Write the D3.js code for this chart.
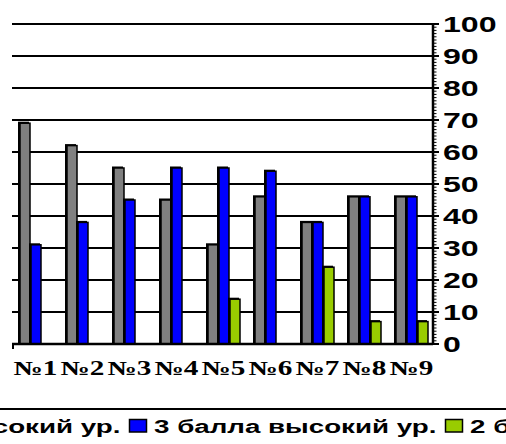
<!DOCTYPE html>
<html>
<head>
<meta charset="utf-8">
<script src="https://cdn.jsdelivr.net/npm/d3@7"></script>
<style>
  body { margin: 0; background: #fff; }
  .ylab { font-family: Arial, "Liberation Sans", sans-serif; font-weight: bold; font-size: 22px; }
  .xlab { font-family: "Times New Roman", "Liberation Serif", serif; font-weight: bold; font-size: 20px; }
  .leg { font-family: Arial, "Liberation Sans", sans-serif; font-weight: bold; font-size: 19px; }
</style>
</head>
<body>
<div id="chart"></div>
<script>
const categories = ['№1', '№2', '№3', '№4', '№5', '№6', '№7', '№8', '№9'];
const seriesNames = ['4 балла высокий ур.', '3 балла высокий ур.', '2 балла высокий ур.'];
const grayValues = [69, 62, 55, 45, 31, 46, 38, 46, 46];
const blueValues = [31, 38, 45, 55, 55, 54, 38, 46, 46];
const greenValues = [0, 0, 0, 0, 14, 0, 24, 7, 7];
const yTicks = [0, 10, 20, 30, 40, 50, 60, 70, 80, 90, 100];
const colors = ['#808080', '#0000ff', '#99cc00'];

const W = 506, H = 444;
const sx = 1.46; // the original picture is stretched horizontally
const plot = { left: 12, right: 433, top: 24, bottom: 344 };

const svg = d3.select('#chart').append('svg')
    .attr('width', W).attr('height', H);

const y = d3.scaleLinear().domain([0, 100]).range([plot.bottom, plot.top]);
const x0 = d3.scaleBand().domain(categories).range([11, 434]);
const x1 = d3.scaleBand().domain(d3.range(3)).range([9, 42]);

// gridlines
svg.append('g').selectAll('line')
    .data(yTicks.filter(d => d > 0))
    .join('line')
    .attr('x1', plot.left).attr('x2', plot.right)
    .attr('y1', d => y(d)).attr('y2', d => y(d))
    .attr('stroke', '#000').attr('stroke-width', 2);

// bars
const data = categories.map((c, i) => ({
    cat: c,
    vals: [grayValues[i], blueValues[i], greenValues[i]]
}));
const groups = svg.append('g').selectAll('g')
    .data(data).join('g')
    .attr('transform', d => `translate(${x0(d.cat)},0)`);
groups.each(function (d) {
    const g = d3.select(this);
    d.vals.forEach((v, k) => {
        if (v <= 0) return;
        g.append('rect')
            .attr('x', x1(k) - 2).attr('y', y(v) - 1.5)
            .attr('width', x1.bandwidth()).attr('height', plot.bottom - y(v) + 1.5)
            .attr('fill', '#000');
        g.append('rect')
            .attr('x', x1(k)).attr('y', y(v))
            .attr('width', x1.bandwidth() - 1).attr('height', plot.bottom - y(v))
            .attr('fill', colors[k])
            .attr('stroke', '#000').attr('stroke-width', 1.5);
    });
});

// x axis line
svg.append('line')
    .attr('x1', plot.left).attr('x2', plot.right)
    .attr('y1', plot.bottom).attr('y2', plot.bottom)
    .attr('stroke', '#000').attr('stroke-width', 2.5);
svg.append('line')
    .attr('x1', plot.left + 1).attr('x2', plot.left + 1)
    .attr('y1', plot.bottom).attr('y2', plot.bottom + 5)
    .attr('stroke', '#000').attr('stroke-width', 2);

// right y axis with minor ticks
const yAxis = svg.append('g');
yAxis.append('line')
    .attr('x1', plot.right).attr('x2', plot.right)
    .attr('y1', plot.top - 1).attr('y2', plot.bottom + 1)
    .attr('stroke', '#000').attr('stroke-width', 2.5);
yAxis.selectAll('line.minor')
    .data(d3.range(0, 101, 1))
    .join('line').attr('class', 'minor')
    .attr('x1', plot.right).attr('x2', d => plot.right + (d % 10 === 0 ? 6 : 3.5))
    .attr('y1', d => y(d)).attr('y2', d => y(d))
    .attr('stroke', '#000').attr('stroke-width', d => d % 10 === 0 ? 2 : 1);
yAxis.selectAll('text')
    .data(yTicks)
    .join('text')
    .attr('class', 'ylab')
    .attr('transform', d => `translate(443,${y(d) + 8}) scale(${sx},1)`)
    .text(d => d);

// category labels
svg.append('g').selectAll('text')
    .data(categories)
    .join('text')
    .attr('class', 'xlab')
    .attr('text-anchor', 'middle')
    .attr('transform', d => `translate(${x0(d) + x0.bandwidth() / 2 + 1},375) scale(${sx},1)`)
    .text(d => d);

// legend
svg.append('line')
    .attr('x1', 0).attr('x2', W)
    .attr('y1', 409).attr('y2', 409)
    .attr('stroke', '#000').attr('stroke-width', 2);
const legStep = 316, legStart = -187;
const leg = svg.append('g').selectAll('g')
    .data(seriesNames)
    .join('g')
    .attr('transform', (d, i) => `translate(${legStart + i * legStep},0)`);
leg.append('rect')
    .attr('x', 0.5).attr('y', 419.5)
    .attr('width', 17).attr('height', 12.5)
    .attr('fill', (d, i) => colors[i])
    .attr('stroke', '#000').attr('stroke-width', 1.5);
leg.append('text')
    .attr('class', 'leg')
    .attr('transform', `translate(25,433) scale(${sx},1)`)
    .text(d => d);
</script>
</body>
</html>
